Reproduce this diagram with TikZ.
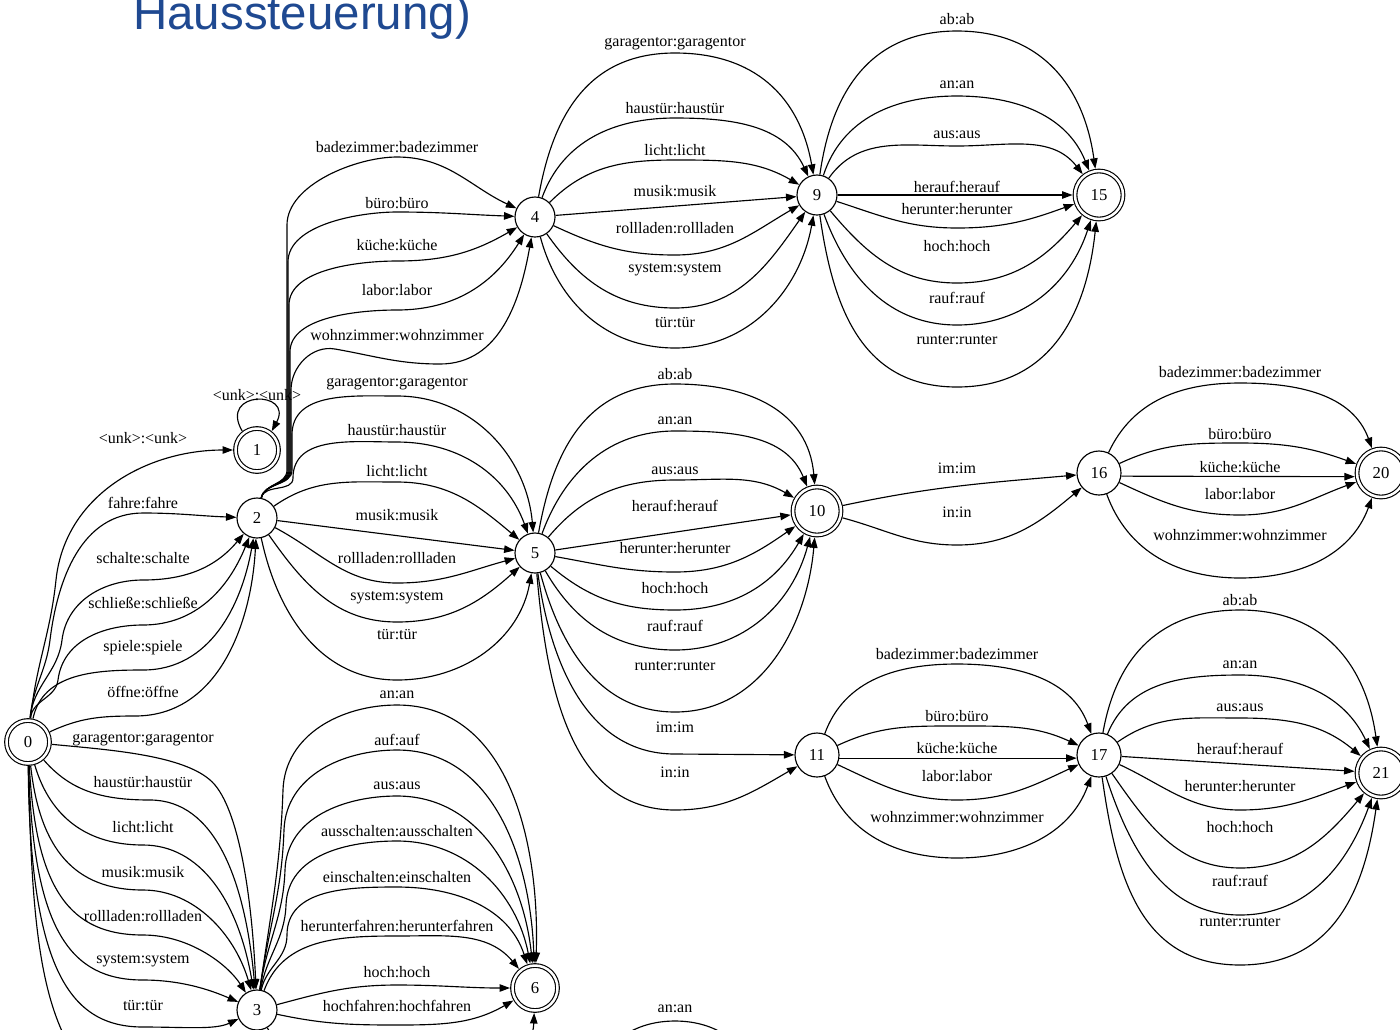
\documentclass[tikz,border=0pt]{standalone}
\usepackage{fontspec}
\setmainfont{Liberation Serif}
\newfontfamily\titlefont{Liberation Sans}
\usetikzlibrary{arrows.meta}
\definecolor{titleblue}{RGB}{31,73,145}
\newcommand{\elab}[4]{\node[lb] (#1) at (#2,-#3) {#4};}
\begin{document}
\begin{tikzpicture}[x=0.02cm,y=0.02cm,
  st/.style={circle,draw,line width=0.65pt,minimum size=0.8cm,inner sep=0pt,font=\fontsize{9.5}{11}\selectfont},
  stb/.style={st,minimum size=0.88cm},
  acc/.style={st,double,double distance=0.05cm,minimum size=0.86cm,outer sep=0.05cm},
  accb/.style={acc,minimum size=0.96cm},
  e/.style={draw,line width=0.65pt,-{Triangle[length=0.21cm,width=0.15cm]}},
  pe/.style={draw,line width=0.65pt},
  lb/.style={inner sep=0pt,font=\fontsize{9.1}{11}\selectfont}]
\useasboundingbox (0,0) rectangle (1400,-1029);
\clip (0,0) rectangle (1400,-1029);

\node[anchor=base west,inner sep=0pt,text=titleblue,font=\titlefont\fontsize{27}{30}\selectfont] (title) at (133,-29) {Haussteuerung)};

% states
\node[acc] (n0) at (28,-742) {0};
\node[acc] (n1) at (257,-450) {1};
\node[st] (n2) at (257,-518) {2};
\node[st] (n3) at (257,-1010) {3};
\node[st] (n4) at (535,-217) {4};
\node[st] (n5) at (535,-553) {5};
\node[acc,minimum size=0.9cm] (n6) at (535,-988) {6};
\node[st] (n9) at (817,-195) {9};
\node[accb] (n10) at (817,-511) {10};
\node[stb] (n11) at (817,-755) {11};
\node[accb] (n15) at (1099,-195) {15};
\node[stb] (n16) at (1099,-473) {16};
\node[stb] (n17) at (1099,-755) {17};
\node[accb] (n20) at (1381,-473) {20};
\node[accb] (n21) at (1381,-773) {21};

\coordinate (off0) at (110,-1095);
\coordinate (offB1) at (590,-1080);
\coordinate (offB2) at (760,-1080);

% 0 -> 1, 0 -> 2
\draw[e] (n0) to[out=84,in=-96] (56,-580) to[out=84,in=180] (n1);
\draw[e] (n0) to[out=85,in=-97] (50,-640) to[out=83,in=180] (143,-513) to[out=0,in=178] (n2);
\draw[e] (n0) to[out=85,in=-97] (62,-640) to[out=83,in=180] (143,-580) to[out=0,in=-130] (n2);
\draw[e] (n0) to[out=84,in=-97] (58,-680) to[out=83,in=180] (143,-625) to[out=0,in=-112] (n2);
\draw[e] (n0) to[out=78,in=180] (143,-670) to[out=0,in=-100] (n2);
\draw[e] (n0) to[out=25,in=180] (135,-716) to[out=0,in=-93] (n2);
% 0 -> 3
\draw[e] (n0) .. controls (110,-750) and (190,-755) .. (215,-785) .. controls (240,-815) and (252,-900) .. (n3);
\draw[e] (n0) .. controls (70,-790) and (100,-800) .. (150,-800) .. controls (215,-800) and (245,-880) .. (n3);
\draw[e] (n0) .. controls (48,-810) and (80,-845) .. (143,-845) .. controls (200,-845) and (238,-900) .. (n3);
\draw[e] (n0) .. controls (40,-850) and (75,-890) .. (143,-890) .. controls (195,-890) and (235,-935) .. (n3);
\draw[e] (n0) .. controls (36,-890) and (70,-935) .. (143,-935) .. controls (190,-935) and (228,-965) .. (n3);
\draw[e] (n0) .. controls (33,-930) and (70,-980) .. (143,-980) .. controls (185,-980) and (215,-992) .. (n3);
\draw[e] (n0) .. controls (30,-970) and (70,-1027) .. (143,-1027) .. controls (185,-1027) and (215,-1030) .. (n3);
\draw[pe] (n0) .. controls (32,-960) and (45,-1040) .. (off0);
% 1 loop
\draw[e] (n1.128) .. controls (218,-390) and (294,-390) .. (n1.52);
% 2 -> 4
\draw[e] (n2) to[out=78,in=-90] (287,-470) -- (287,-225) to[out=90,in=180,looseness=0.8] (397,-157) to[out=0,in=155] (n4);
\draw[e] (n2) to[out=78,in=-90] (288,-470) -- (288,-262) to[out=90,in=180,looseness=0.8] (397,-212) to[out=0,in=178] (n4);
\draw[e] (n2) to[out=78,in=-90] (289,-470) -- (289,-305) to[out=90,in=180,looseness=0.8] (397,-261) to[out=0,in=-150] (n4);
\draw[e] (n2) to[out=78,in=-90] (290,-470) -- (290,-352) to[out=90,in=180,looseness=0.8] (397,-310) to[out=0,in=-122] (n4);
\draw[e] (n2) to[out=78,in=-90] (291,-470) -- (291,-390) to[out=90,in=170] (335,-349) to[out=-10,in=180] (440,-364) to[out=0,in=-100] (n4);
% 2 -> 5
\draw[e] (n2) to[out=78,in=-90] (292,-470) -- (292,-435) to[out=90,in=180] (397,-396) to[out=0,in=95] (n5);
\draw[e] (n2) to[out=78,in=-90] (293,-478) to[out=90,in=180] (397,-442) to[out=0,in=110] (n5);
\draw[e] (n2) to[out=35,in=180] (397,-482) to[out=0,in=140] (n5);
\draw[e] (n2) -- (n5);
\draw[e] (n2) to[out=-28,in=180] (397,-583) to[out=0,in=-165] (n5);
\draw[e] (n2) to[out=-55,in=180] (397,-622) to[out=0,in=-138] (n5);
\draw[e] (n2) to[out=-78,in=180] (397,-680) to[out=0,in=-100] (n5);
% 3 -> 6
\draw[e] (n3) to[out=82,in=-92] (283,-790) to[out=88,in=180] (397,-705) to[out=0,in=88] (n6);
\draw[e] (n3) to[out=82,in=-92] (284,-830) to[out=88,in=180] (397,-750) to[out=0,in=92] (n6);
\draw[e] (n3) to[out=82,in=-92] (285,-870) to[out=88,in=180] (397,-796) to[out=0,in=96] (n6);
\draw[e] (n3) to[out=80,in=-92] (286,-905) to[out=88,in=180] (397,-841) to[out=0,in=101] (n6);
\draw[e] (n3) to[out=78,in=-90] (287,-935) to[out=90,in=180] (397,-887) to[out=0,in=108] (n6);
\draw[e] (n3) to[out=70,in=180] (397,-936) to[out=0,in=130] (n6);
\draw[e] (n3) to[out=15,in=180] (397,-985) to[out=0,in=180] (n6);
\draw[e] (n3) to[out=-12,in=180] (397,-1025) to[out=0,in=-150] (n6);
\draw[e] (n3) to[out=-60,in=180] (397,-1075) to[out=0,in=-92] (n6);
\draw[pe] (offB1) to[out=70,in=180] (675,-1021) to[out=0,in=110] (offB2);
% 4 -> 9
\draw[e] (n4) to[out=80,in=180,looseness=1.1] (675,-53) to[out=0,in=100,looseness=1.1] (n9);
\draw[e] (n4) to[out=70,in=180] (675,-118) to[out=0,in=115] (n9);
\draw[e] (n4) to[out=45,in=180] (675,-160) to[out=0,in=150] (n9);
\draw[e] (n4) -- (n9);
\draw[e] (n4) to[out=-25,in=180] (675,-255) to[out=0,in=-150] (n9);
\draw[e] (n4) to[out=-55,in=180] (675,-308) to[out=0,in=-125] (n9);
\draw[e] (n4) to[out=-75,in=180] (675,-348) to[out=0,in=-100] (n9);
% 9 -> 15
\draw[e] (n9) to[out=82,in=180,looseness=1.1] (957,-31) to[out=0,in=98,looseness=1.1] (n15);
\draw[e] (n9) to[out=72,in=180] (957,-96) to[out=0,in=112] (n15);
\draw[e] (n9) to[out=55,in=180] (957,-146) to[out=0,in=128] (n15);
\draw[e] (n9) -- (n15);
\draw[e] (n9) to[out=-18,in=180] (957,-228) to[out=0,in=-160] (n15);
\draw[e] (n9) to[out=-50,in=180] (957,-283) to[out=0,in=-130] (n15);
\draw[e] (n9) to[out=-70,in=180] (957,-325) to[out=0,in=-108] (n15);
\draw[e] (n9) to[out=-82,in=180,looseness=1.1] (957,-387) to[out=0,in=-96,looseness=1.1] (n15);
% 5 -> 10, 5 -> 11
\draw[e] (n5) to[out=80,in=180,looseness=1.1] (675,-384) to[out=0,in=95,looseness=1.1] (n10);
\draw[e] (n5) to[out=70,in=180] (675,-431) to[out=0,in=112] (n10);
\draw[e] (n5) to[out=50,in=180] (675,-480) to[out=0,in=150] (n10);
\draw[e] (n5) -- (n10);
\draw[e] (n5) to[out=-10,in=180] (675,-572) to[out=0,in=-145] (n10);
\draw[e] (n5) to[out=-40,in=180] (675,-610) to[out=0,in=-120] (n10);
\draw[e] (n5) to[out=-60,in=180] (675,-650) to[out=0,in=-105] (n10);
\draw[e] (n5) to[out=-75,in=180] (675,-712) to[out=0,in=-95] (n10);
\draw[e] (n5) to[out=-82,in=180] (675,-754) -- (n11);
\draw[e] (n5) to[out=-85,in=180] (675,-810) to[out=0,in=-150] (n11);
% 10 -> 16
\draw[e] (n10) to[out=12,in=-175] (n16);
\draw[e] (n10) to[out=-15,in=180] (957,-545) to[out=0,in=-140] (n16);
% 16 -> 20
\draw[e] (n16) to[out=65,in=180] (1240,-383) to[out=0,in=110] (n20);
\draw[e] (n16) to[out=25,in=180] (1240,-443) to[out=0,in=160] (n20);
\draw[e] (n16.-8) -- (n20.-172);
\draw[e] (n16) to[out=-25,in=180] (1240,-515) to[out=0,in=-160] (n20);
\draw[e] (n16) to[out=-70,in=180] (1240,-578) to[out=0,in=-110] (n20);
% 11 -> 17
\draw[e] (n11) to[out=70,in=180] (957,-664) to[out=0,in=110] (n17);
\draw[e] (n11) to[out=25,in=180] (957,-726) to[out=0,in=155] (n17);
\draw[e] (n11.-8) -- (n17.-172);
\draw[e] (n11) to[out=-25,in=180] (957,-800) to[out=0,in=-155] (n17);
\draw[e] (n11) to[out=-70,in=180] (957,-858) to[out=0,in=-110] (n17);
% 17 -> 21
\draw[e] (n17) to[out=80,in=180,looseness=1.1] (1240,-610) to[out=0,in=98,looseness=1.1] (n21);
\draw[e] (n17) to[out=68,in=180] (1240,-675) to[out=0,in=115] (n21);
\draw[e] (n17) to[out=35,in=180] (1240,-718) to[out=0,in=140] (n21);
\draw[e] (n17) -- (n21);
\draw[e] (n17) to[out=-25,in=180] (1240,-810) to[out=0,in=-160] (n21);
\draw[e] (n17) to[out=-55,in=180] (1240,-868) to[out=0,in=-130] (n21);
\draw[e] (n17) to[out=-72,in=180] (1240,-915) to[out=0,in=-110] (n21);
\draw[e] (n17) to[out=-82,in=180,looseness=1.1] (1240,-965) to[out=0,in=-98,looseness=1.1] (n21);

% labels
\elab{la1}{143}{438}{<unk>:<unk>}
\elab{la2}{143}{503}{fahre:fahre}
\elab{la3}{143}{558}{schalte:schalte}
\elab{la4}{143}{603}{schließe:schließe}
\elab{la5}{143}{648}{spiele:spiele}
\elab{la6}{143}{692}{öffne:öffne}
\elab{la7}{143}{740}{garagentor:garagentor}
\elab{la8}{143}{782}{haustür:haustür}
\elab{la9}{143}{827}{licht:licht}
\elab{la10}{143}{872}{musik:musik}
\elab{la11}{143}{916}{rollladen:rollladen}
\elab{la12}{143}{961}{system:system}
\elab{la13}{143}{1006}{tür:tür}
\elab{lb1}{257}{395}{<unk>:<unk>}
\elab{lc1}{397}{147}{badezimmer:badezimmer}
\elab{lc2}{397}{203}{büro:büro}
\elab{lc3}{397}{245}{küche:küche}
\elab{lc4}{397}{290}{labor:labor}
\elab{lc5}{397}{335}{wohnzimmer:wohnzimmer}
\elab{lc6}{397}{384}{garagentor:garagentor}
\elab{lc7}{397}{430}{haustür:haustür}
\elab{lc8}{397}{471}{licht:licht}
\elab{lc9}{397}{515}{musik:musik}
\elab{lc10}{397}{558}{rollladen:rollladen}
\elab{lc11}{397}{598}{system:system}
\elab{lc12}{397}{635}{tür:tür}
\elab{ld1}{397}{695}{an:an}
\elab{ld2}{397}{740}{auf:auf}
\elab{ld3}{397}{786}{aus:aus}
\elab{ld4}{397}{831}{ausschalten:ausschalten}
\elab{ld5}{397}{877}{einschalten:einschalten}
\elab{ld6}{397}{926}{herunterfahren:herunterfahren}
\elab{ld7}{397}{972}{hoch:hoch}
\elab{ld8}{397}{1006}{hochfahren:hochfahren}
\elab{le1}{675}{44}{garagentor:garagentor}
\elab{le2}{675}{108}{haustür:haustür}
\elab{le3}{675}{150}{licht:licht}
\elab{le4}{675}{191}{musik:musik}
\elab{le5}{675}{228}{rollladen:rollladen}
\elab{le6}{675}{270}{system:system}
\elab{le7}{675}{323}{tür:tür}
\elab{lf1}{675}{374}{ab:ab}
\elab{lf2}{675}{421}{an:an}
\elab{lf3}{675}{471}{aus:aus}
\elab{lf4}{675}{506}{herauf:herauf}
\elab{lf5}{675}{548}{herunter:herunter}
\elab{lf6}{675}{588}{hoch:hoch}
\elab{lf7}{675}{626}{rauf:rauf}
\elab{lf8}{675}{666}{runter:runter}
\elab{lf9}{675}{727}{im:im}
\elab{lf10}{675}{772}{in:in}
\elab{lf11}{675}{1009}{an:an}
\elab{lg1}{957}{19}{ab:ab}
\elab{lg2}{957}{85}{an:an}
\elab{lg3}{957}{135}{aus:aus}
\elab{lg4}{957}{187}{herauf:herauf}
\elab{lg5}{957}{209}{herunter:herunter}
\elab{lg6}{957}{246}{hoch:hoch}
\elab{lg7}{957}{298}{rauf:rauf}
\elab{lg8}{957}{340}{runter:runter}
\elab{lh1}{957}{468}{im:im}
\elab{lh2}{957}{512}{in:in}
\elab{lh3}{957}{654}{badezimmer:badezimmer}
\elab{lh4}{957}{716}{büro:büro}
\elab{lh5}{957}{748}{küche:küche}
\elab{lh6}{957}{776}{labor:labor}
\elab{lh7}{957}{817}{wohnzimmer:wohnzimmer}
\elab{li1}{1240}{372}{badezimmer:badezimmer}
\elab{li2}{1240}{434}{büro:büro}
\elab{li3}{1240}{467}{küche:küche}
\elab{li4}{1240}{494}{labor:labor}
\elab{li5}{1240}{535}{wohnzimmer:wohnzimmer}
\elab{lj1}{1240}{600}{ab:ab}
\elab{lj2}{1240}{665}{an:an}
\elab{lj3}{1240}{708}{aus:aus}
\elab{lj4}{1240}{749}{herauf:herauf}
\elab{lj5}{1240}{786}{herunter:herunter}
\elab{lj6}{1240}{827}{hoch:hoch}
\elab{lj7}{1240}{881}{rauf:rauf}
\elab{lj8}{1240}{922}{runter:runter}
\end{tikzpicture}
\end{document}
